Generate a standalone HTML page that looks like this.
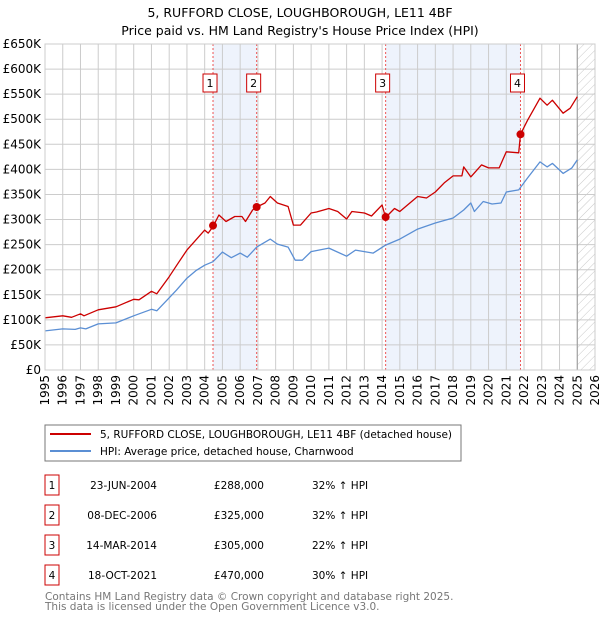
<!DOCTYPE html>
<html><head><meta charset="utf-8"><style>
body{margin:0;background:#fff;font-family:"DejaVu Sans","Liberation Sans",sans-serif;}
svg text{font-family:"DejaVu Sans","Liberation Sans",sans-serif;}
</style></head><body>
<svg id="c" width="600" height="620" viewBox="0 0 600 620" xmlns="http://www.w3.org/2000/svg">
<defs><pattern id="hatch" width="6" height="6" patternUnits="userSpaceOnUse" patternTransform="rotate(45)"><line x1="0" y1="0" x2="0" y2="6" stroke="#bbb" stroke-width="0.8"/></pattern></defs>
<text x="300" y="17" text-anchor="middle" font-size="12.5" fill="#000">5, RUFFORD CLOSE, LOUGHBOROUGH, LE11 4BF</text>
<text x="300" y="35" text-anchor="middle" font-size="12.5" fill="#000">Price paid vs. HM Land Registry's House Price Index (HPI)</text>
<g id="plot"></g>
<rect x="45" y="425" width="416" height="36" fill="#fff" stroke="#777"/>
<line x1="50" y1="434" x2="91" y2="434" stroke="#cc0000" stroke-width="2"/>
<text x="100" y="438" font-size="10.5">5, RUFFORD CLOSE, LOUGHBOROUGH, LE11 4BF (detached house)</text>
<line x1="50" y1="451" x2="91" y2="451" stroke="#5b8fd4" stroke-width="2"/>
<text x="100" y="455" font-size="10.5">HPI: Average price, detached house, Charnwood</text>
<g id="table" font-size="10.5"></g>
<text x="45" y="600" font-size="10.5" fill="#777">Contains HM Land Registry data © Crown copyright and database right 2025.</text>
<text x="45" y="610" font-size="10.5" fill="#777">This data is licensed under the Open Government Licence v3.0.</text>
</svg>
<script>
const hpiYears=[1995,1996,1996.7,1997,1997.3,1998,1999,2000,2001,2001.3,2002,2002.4,2003,2003.5,2004,2004.47,2005,2005.5,2006,2006.4,2006.93,2007.7,2008.1,2008.7,2009.1,2009.5,2010,2011,2012,2012.5,2013.5,2014.2,2015,2016,2017,2018,2018.6,2019,2019.2,2019.7,2020.2,2020.7,2021,2021.7,2022.2,2022.9,2023.3,2023.6,2024.2,2024.7,2025];
const hpiValues=[78,82,81,84,82,92,94,108,121,118,144,159,183,198,209,216,235,224,233,225,245,261,251,245,219,219,236,243,227,239,233,249,261,281,293,303,319,333,316,336,331,333,355,359,383,415,405,412,392,403,419];
const propYears=[1995,1996,1996.5,1997,1997.2,1998,1999,2000,2000.3,2001,2001.3,2002,2002.5,2003,2003.5,2004,2004.2,2004.47,2004.8,2005.2,2005.7,2006.1,2006.3,2006.7,2006.93,2007.4,2007.7,2008.1,2008.7,2009.0,2009.4,2010,2010.3,2011,2011.5,2012,2012.3,2013,2013.4,2014,2014.2,2014.7,2015,2016,2016.5,2017,2017.5,2018,2018.5,2018.6,2019,2019.6,2020,2020.6,2021,2021.7,2021.8,2022.2,2022.9,2023.3,2023.6,2024.2,2024.6,2025];
const propValues=[104,108,105,112,108,120,126,141,140,157,152,186,213,239,259,279,273,286,309,296,306,306,296,319,325,333,346,333,326,289,289,313,315,322,316,301,316,313,307,329,304,322,316,346,343,355,373,387,387,405,385,409,403,403,435,433,470,498,542,528,538,512,522,545];
const saleYears=[2004.47,2006.93,2014.2,2021.8];
const saleValues=[288,325,305,470];
const saleLabels=["1","2","3","4"];
const saleDates=["23-JUN-2004","08-DEC-2006","14-MAR-2014","18-OCT-2021"];
const salePrices=["£288,000","£325,000","£305,000","£470,000"];
const saleHpi=["32% ↑ HPI","32% ↑ HPI","22% ↑ HPI","30% ↑ HPI"];
const yTicks=[0,50,100,150,200,250,300,350,400,450,500,550,600,650];
const yTickLabels=["£0","£50K","£100K","£150K","£200K","£250K","£300K","£350K","£400K","£450K","£500K","£550K","£600K","£650K"];
const xTicks=[1995,1996,1997,1998,1999,2000,2001,2002,2003,2004,2005,2006,2007,2008,2009,2010,2011,2012,2013,2014,2015,2016,2017,2018,2019,2020,2021,2022,2023,2024,2025,2026];

const NS="http://www.w3.org/2000/svg";
const L=45,R=595,T=44,B=370,X0=1995,X1=2026,YMAX=650;
const xs=v=>L+(v-X0)/(X1-X0)*(R-L);
const ys=v=>B-v/YMAX*(B-T);
const plot=document.getElementById('plot');
function mk(tag,attrs,parent){const e=document.createElementNS(NS,tag);for(const k in attrs)e.setAttribute(k,attrs[k]);(parent||plot).appendChild(e);return e;}

for(let i=0;i<saleYears.length;i+=2){
  const r=mk('rect',{x:xs(saleYears[i]),y:T,width:xs(saleYears[i+1])-xs(saleYears[i]),height:B-T,fill:'#eef3fc'});
  
  
}
const h=mk('rect',{x:xs(2025),y:T,width:R-xs(2025),height:B-T,fill:'url(#hatch)'});


yTicks.forEach((v,i)=>{
  const g=mk('line',{x1:L,x2:R,y1:ys(v),y2:ys(v),stroke:'#ccc','stroke-width':1});
  
  
  const t=mk('text',{x:L-4,y:ys(v)+4,'text-anchor':'end','font-size':12});
  
  
  t.textContent=yTickLabels[i];
});
xTicks.forEach(v=>{
  const g=mk('line',{x1:xs(v),x2:xs(v),y1:T,y2:B,stroke:'#ccc','stroke-width':1});
  
  
  const t=mk('text',{transform:`translate(${xs(v)+4},${B+5}) rotate(-90)`,'text-anchor':'end','font-size':12});
  
  
  t.textContent=v;
});
const nl=mk('line',{x1:xs(2025),x2:xs(2025),y1:T,y2:B,stroke:'#999','stroke-width':1});


saleYears.forEach((y,i)=>{
  const l=mk('line',{x1:xs(y),x2:xs(y),y1:T,y2:B,stroke:'#e55','stroke-width':1,'stroke-dasharray':'2,2'});
  
  
  const b=mk('rect',{x:xs(y)-10,y:74,width:14,height:18,fill:'#fff',stroke:'#c00'});
  
  
  const t=mk('text',{x:xs(y)-3,y:87,'text-anchor':'middle','font-size':11});
  
  
  t.textContent=saleLabels[i];
});
function line(xa,ya,color,name){
  const p=mk('polyline',{points:xa.map((x,i)=>xs(x).toFixed(1)+','+ys(ya[i]).toFixed(1)).join(' '),fill:'none',stroke:color,'stroke-width':1.3,'stroke-linejoin':'round'});
  
  
}
line(hpiYears,hpiValues,'#5b8fd4','hpi-line');
line(propYears,propValues,'#cc0000','property-line');
saleYears.forEach((y,i)=>{
  const c=mk('circle',{cx:xs(y),cy:ys(saleValues[i]),r:4,fill:'#cc0000'});
  
  
});
const ax=mk('rect',{x:L,y:T,width:R-L,height:B-T,fill:'none',stroke:'#ccc'});


const tb=document.getElementById('table');
saleLabels.forEach((s,i)=>{
  const cy=485+i*30;
  const b=mk('rect',{x:45,y:cy-10,width:14,height:20,fill:'#fff',stroke:'#c00'},tb);
  
  
  const t0=mk('text',{x:52,y:cy+4,'text-anchor':'middle'},tb);
  
  
  t0.textContent=s;
  const t1=mk('text',{x:157,y:cy+4,'text-anchor':'end'},tb);
  
  
  t1.textContent=saleDates[i];
  const t2=mk('text',{x:264,y:cy+4,'text-anchor':'end'},tb);
  
  
  t2.textContent=salePrices[i];
  const t3=mk('text',{x:312,y:cy+4},tb);
  
  
  t3.textContent=saleHpi[i];
});
</script>
</body></html>
